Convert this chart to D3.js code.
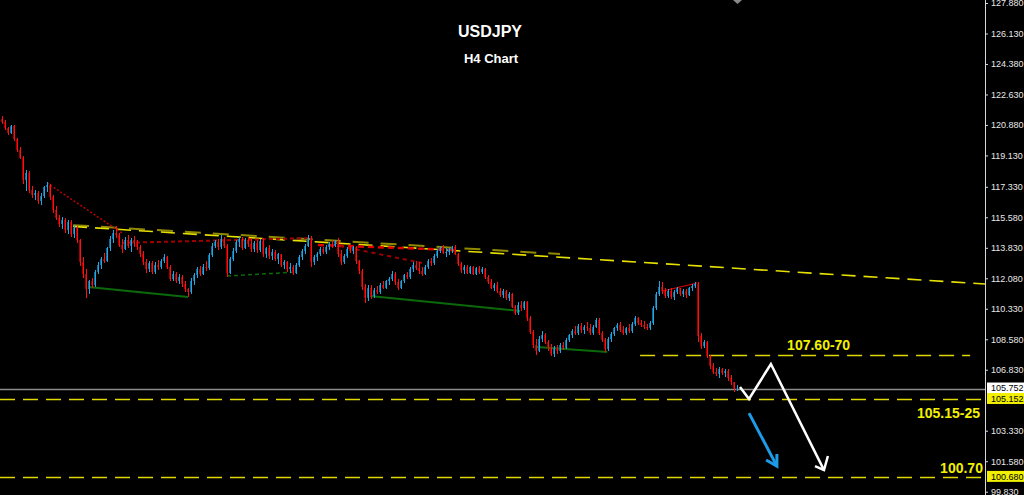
<!DOCTYPE html>
<html><head><meta charset="utf-8">
<script src="https://cdn.jsdelivr.net/npm/d3@7"></script>
<style>html,body{margin:0;padding:0;background:#000;overflow:hidden}svg{display:block}</style>
</head><body>
<svg id="c" width="1024" height="495"></svg>
<script>
const opens=[121.20,121.05,120.70,120.40,120.80,120.05,119.45,119.00,117.70,118.10,117.15,116.85,117.00,116.50,116.80,117.30,117.45,116.75,116.00,115.55,115.20,115.45,114.85,115.30,114.60,114.95,114.25,113.00,112.30,111.45,111.90,111.70,112.45,112.85,113.20,113.10,113.80,114.35,114.70,114.55,114.00,113.75,114.30,113.95,114.25,114.10,113.85,113.45,113.00,112.60,112.95,112.45,112.85,112.70,113.05,113.30,112.75,112.05,112.35,111.95,112.15,111.75,111.45,111.30,111.95,112.25,112.60,112.35,112.75,112.65,113.40,113.95,114.15,113.85,114.35,113.95,112.40,113.20,113.65,114.15,114.35,113.80,114.30,114.05,113.75,114.10,113.70,114.20,113.45,113.80,113.35,113.60,113.20,113.45,112.85,113.00,112.60,112.75,112.40,112.85,113.30,113.65,113.95,114.40,113.00,113.30,113.50,113.75,113.60,113.90,114.05,113.95,114.20,113.45,113.00,113.35,113.75,113.65,113.85,113.05,112.50,111.60,110.95,111.55,111.05,111.40,111.30,111.70,111.55,111.90,112.05,112.35,111.85,111.55,111.90,112.25,112.15,112.60,112.85,112.65,112.50,112.35,112.75,113.10,112.95,113.35,113.65,113.85,113.55,113.60,113.70,113.85,113.50,112.90,112.55,112.75,112.40,112.70,112.35,112.65,112.45,112.60,112.15,111.85,111.55,111.70,111.35,111.10,111.35,110.95,111.20,110.45,110.10,110.55,110.35,110.70,109.80,109.00,108.25,107.90,108.60,108.85,108.40,108.05,107.75,108.10,107.90,108.25,108.10,108.55,108.80,109.05,108.95,109.35,109.10,109.30,109.20,108.95,109.30,109.70,108.95,108.55,108.00,108.60,108.90,109.20,109.40,109.10,108.95,109.20,109.05,109.45,109.80,109.50,109.40,109.30,109.20,109.50,110.35,111.15,111.60,111.35,111.05,111.35,111.00,111.30,111.50,111.15,111.35,111.10,111.50,111.65,111.75,108.75,108.20,108.45,107.60,107.05,106.70,106.60,106.85,106.65,106.75,106.35,106.10,105.70];
const highs=[121.40,121.15,120.75,120.90,120.85,120.15,119.60,119.10,118.30,118.25,117.40,117.15,117.10,116.95,117.40,117.60,117.50,116.85,116.20,115.70,115.60,115.55,115.40,115.45,115.15,115.10,114.35,113.30,112.60,112.00,112.10,112.55,113.00,113.30,113.55,113.90,114.50,114.85,115.10,114.70,114.35,114.45,114.55,114.40,114.50,114.30,114.00,113.65,113.20,113.10,113.05,113.00,113.15,113.20,113.45,113.35,112.85,112.50,112.45,112.30,112.25,111.95,111.55,112.10,112.40,112.70,112.80,112.90,113.10,113.55,114.10,114.30,114.35,114.55,114.45,114.05,113.30,113.80,114.30,114.45,114.45,114.40,114.45,114.40,114.20,114.25,114.35,114.40,113.90,114.00,113.75,113.70,113.55,113.50,113.15,113.10,112.95,112.85,112.95,113.40,113.75,114.05,114.55,114.50,113.40,113.60,113.90,113.85,114.00,114.15,114.25,114.30,114.40,113.70,113.45,113.85,113.95,113.95,113.95,113.15,112.60,111.75,111.70,111.70,111.50,111.65,111.80,111.90,112.00,112.15,112.50,112.45,112.05,112.00,112.35,112.45,112.70,113.00,113.05,113.00,112.70,112.85,113.20,113.25,113.45,113.75,113.95,114.00,113.80,113.80,113.95,114.00,113.55,113.00,112.85,112.85,112.80,112.80,112.75,112.80,112.70,112.65,112.25,112.05,111.80,111.85,111.50,111.45,111.40,111.30,111.25,110.55,110.70,110.75,110.80,110.75,109.90,109.10,108.60,108.75,109.05,108.95,108.55,108.30,108.20,108.25,108.35,108.45,108.65,108.90,109.15,109.35,109.45,109.50,109.40,109.55,109.45,109.40,109.80,109.80,109.05,108.65,108.70,109.00,109.30,109.50,109.55,109.35,109.30,109.45,109.55,109.90,109.85,109.70,109.60,109.45,109.60,110.50,111.30,111.90,111.85,111.55,111.45,111.50,111.40,111.60,111.55,111.45,111.45,111.60,111.75,111.85,111.85,108.95,108.55,108.50,107.70,107.20,106.95,107.00,106.95,106.90,106.85,106.50,106.15,105.95];
const lows=[120.95,120.60,120.30,120.35,119.95,119.35,118.90,117.50,117.10,116.95,116.70,116.55,116.35,116.30,116.70,117.05,116.60,115.85,115.40,115.05,114.90,114.70,114.60,114.45,114.40,114.10,112.80,112.10,110.95,111.20,111.50,111.60,112.30,112.60,112.95,113.00,113.65,114.10,114.40,113.85,113.55,113.70,113.80,113.60,113.90,113.70,113.30,112.85,112.40,112.45,112.30,112.35,112.55,112.60,112.95,112.60,111.90,111.90,111.80,111.75,111.60,111.30,111.00,111.20,111.70,112.10,112.20,112.25,112.50,112.55,113.30,113.80,113.70,113.75,113.80,112.15,112.30,113.05,113.55,113.85,113.70,113.75,113.90,113.60,113.60,113.55,113.60,113.30,113.25,113.20,113.15,113.05,112.90,112.75,112.60,112.45,112.40,112.25,112.30,112.70,113.15,113.50,113.85,112.70,112.85,113.10,113.35,113.45,113.50,113.70,113.80,113.85,113.30,112.85,112.90,113.25,113.55,113.45,112.90,112.35,111.40,110.65,110.75,110.90,110.95,111.20,111.20,111.45,111.45,111.70,111.95,111.70,111.40,111.45,111.80,112.05,112.05,112.45,112.55,112.35,112.20,112.25,112.60,112.80,112.85,113.25,113.55,113.45,113.30,113.40,113.55,113.40,112.80,112.40,112.35,112.30,112.30,112.25,112.25,112.30,112.35,112.05,111.75,111.45,111.35,111.25,111.00,110.95,110.85,110.80,110.35,109.95,110.00,110.20,110.25,109.65,108.90,108.10,107.70,107.85,108.40,108.30,107.90,107.60,107.55,107.75,107.80,107.95,108.00,108.40,108.65,108.85,108.85,108.95,108.90,109.05,108.80,108.85,109.20,108.80,108.45,107.85,107.90,108.45,108.75,109.05,109.00,108.80,108.85,108.95,108.95,109.35,109.40,109.30,109.15,109.10,109.10,109.40,110.25,111.05,111.20,110.95,110.95,110.90,110.85,111.20,111.05,111.00,110.95,111.05,111.35,111.55,108.40,108.00,108.05,107.50,106.90,106.60,106.45,106.35,106.50,106.40,106.20,105.95,105.55,105.60];
const closes=[121.05,120.70,120.40,120.80,120.05,119.45,119.00,117.70,118.10,117.15,116.85,117.00,116.50,116.80,117.30,117.45,116.75,116.00,115.55,115.20,115.45,114.85,115.30,114.60,114.95,114.25,113.00,112.30,111.45,111.90,111.70,112.45,112.85,113.20,113.10,113.80,114.35,114.70,114.55,114.00,113.75,114.30,113.95,114.25,114.10,113.85,113.45,113.00,112.60,112.95,112.45,112.85,112.70,113.05,113.30,112.75,112.05,112.35,111.95,112.15,111.75,111.45,111.30,111.95,112.25,112.60,112.35,112.75,112.65,113.40,113.95,114.15,113.85,114.35,113.95,112.40,113.20,113.65,114.15,114.35,113.80,114.30,114.05,113.75,114.10,113.70,114.20,113.45,113.80,113.35,113.60,113.20,113.45,112.85,113.00,112.60,112.75,112.40,112.85,113.30,113.65,113.95,114.40,113.00,113.30,113.50,113.75,113.60,113.90,114.05,113.95,114.20,113.45,113.00,113.35,113.75,113.65,113.85,113.05,112.50,111.60,110.95,111.55,111.05,111.40,111.30,111.70,111.55,111.90,112.05,112.35,111.85,111.55,111.90,112.25,112.15,112.60,112.85,112.65,112.50,112.35,112.75,113.10,112.95,113.35,113.65,113.85,113.55,113.60,113.70,113.85,113.50,112.90,112.55,112.75,112.40,112.70,112.35,112.65,112.45,112.60,112.15,111.85,111.55,111.70,111.35,111.10,111.35,110.95,111.20,110.45,110.10,110.55,110.35,110.70,109.80,109.00,108.25,107.90,108.60,108.85,108.40,108.05,107.75,108.10,107.90,108.25,108.10,108.55,108.80,109.05,108.95,109.35,109.10,109.30,109.20,108.95,109.30,109.70,108.95,108.55,108.00,108.60,108.90,109.20,109.40,109.10,108.95,109.20,109.05,109.45,109.80,109.50,109.40,109.30,109.20,109.50,110.35,111.15,111.60,111.35,111.05,111.35,111.00,111.30,111.50,111.15,111.35,111.10,111.50,111.65,111.75,108.75,108.20,108.45,107.60,107.05,106.70,106.60,106.85,106.65,106.75,106.35,106.10,105.70,105.75];

const axisTicks=[127.880,126.130,124.380,122.630,120.880,119.130,117.330,115.580,113.830,112.080,110.330,108.580,106.830,103.330,101.580,99.830];
const currentPrice=105.752;
const levelPrices=[105.152,100.680];
const levelLabels=["105.15-25","100.70"];
const resistance=107.65, resistanceLabel="107.60-70";

// trendlines in [bar index, price]
const redDotted=[[15,117.55],[40,114.68]];
const redTop=[[40,114.11],[103.3,114.39]];
const redMid=[[105.3,113.99],[151.7,113.70]];
const redLow=[[112.7,113.93],[140,112.96]];
const redLast=[[220.3,111.35],[231.7,111.81]];
const greenA=[[28.7,111.58],[62,111.01]];
const greenB=[[75,112.21],[98.3,112.44]];
const greenC=[[122.7,111.06],[172.7,110.20]];
const greenD=[[178.3,108.13],[201.7,107.85]];
const yellowTrend=[[23.7,115.05],[327.7,111.75]];
const oliveTrend=[[23.7,115.13],[186,113.47]];
const whiteArrow=[[246,105.84],[249,105.15],[256.3,107.16],[274,101.07]];
const whiteHead=[[271,101.30],[274,101.07],[275.3,101.88]];
const blueArrow=[[249,104.34],[258.3,101.30]];
const blueHead=[[254.7,101.65],[258.3,101.30],[258.3,101.99]];

const W=1024,H=495,axisX=985;
const svg=d3.select("#c");
svg.append("rect").attr("width",W).attr("height",H).attr("fill","#000");
const x=d3.scaleLinear().domain([0,opens.length-1]).range([2,737]);
const y=d3.scaleLinear().domain([99.83,127.88]).range([491.7,3]);

const g=svg.append("g");
function seg(pts,color,w,dash){
  g.append("path").attr("d",d3.line().x(d=>x(d[0])).y(d=>y(d[1]))(pts))
   .attr("fill","none").attr("stroke",color).attr("stroke-width",w)
   .attr("stroke-dasharray",dash||null).attr("stroke-linejoin","miter");
}
function hline(p,x0,x1,color,w,dash){
  g.append("line").attr("x1",x0).attr("x2",x1).attr("y1",Math.round(y(p))+0.5).attr("y2",Math.round(y(p))+0.5)
   .attr("stroke",color).attr("stroke-width",w).attr("stroke-dasharray",dash||null);
}

// horizontal levels
hline(currentPrice,0,axisX,"#8c8c8c",1.5);
levelPrices.forEach(p=>hline(p,0,axisX,"#e0d800",1.6,"15,8"));
hline(resistance,x(212.7),x(322.7),"#e0d800",1.6,"15,8");

// trendlines
seg(oliveTrend,"#8f8a00",2,"16,12");
seg(yellowTrend,"#e6e000",1.6,"14,8");
seg(greenA,"#0a6a0a",2);
seg(greenB,"#0a6a0a",1.5,"4,3");
seg(greenC,"#0a6a0a",2);
seg(greenD,"#0a6a0a",2);
seg(redDotted,"#c00000",1.5,"2,2");
seg(redTop,"#a00000",2,"4,3");
seg(redMid,"#e00000",2.5,"6,4");
seg(redLow,"#a00000",2,"4,4");
seg(redLast,"#e00000",1.2);

// candles
const idx=d3.range(opens.length);
const cg=svg.append("g").attr("shape-rendering","crispEdges");
idx.forEach(i=>{
  const cx=Math.round(x(i));
  const up=closes[i]>=opens[i];
  const yt=y(Math.max(opens[i],closes[i])), yb=y(Math.min(opens[i],closes[i]));
  cg.append("rect").attr("x",cx-1).attr("width",2).attr("y",yt).attr("height",Math.max(1,yb-yt))
    .attr("fill",up?"#0e6c96":"#a00000");
  cg.append("rect").attr("x",cx).attr("width",1).attr("y",y(highs[i])).attr("height",Math.max(1,y(lows[i])-y(highs[i])))
    .attr("fill",up?"#22a6e6":"#ff1010");
});

// arrows
seg(whiteArrow,"#ffffff",2.5);
seg(whiteHead,"#ffffff",2.5);
seg(blueArrow,"#1e9be6",3);
seg(blueHead,"#1e9be6",3);

// level labels
const lab=svg.append("g").attr("font-family","Liberation Sans, Arial, sans-serif").attr("font-weight","bold")
  .attr("font-size",14).attr("fill","#f2f000");
lab.append("text").attr("x",x(261.7)).attr("y",y(resistance)-5).text(resistanceLabel);
lab.append("text").attr("x",x(305)).attr("y",y(levelPrices[0])+19).text(levelLabels[0]);
lab.append("text").attr("x",x(312.7)).attr("y",y(levelPrices[1])-4).text(levelLabels[1]);

// title
svg.append("text").attr("x",490).attr("y",37).attr("text-anchor","middle").attr("fill","#fff")
  .attr("font-family","Liberation Sans, Arial, sans-serif").attr("font-weight","bold").attr("font-size",16).text("USDJPY");
svg.append("text").attr("x",491).attr("y",63).attr("text-anchor","middle").attr("fill","#fff")
  .attr("font-family","Liberation Sans, Arial, sans-serif").attr("font-weight","bold").attr("font-size",13).text("H4 Chart");

// shift marker
svg.append("path").attr("d","M733,0 L742,0 L737.5,4 Z").attr("fill","#8a8a8a");

// axis
svg.append("line").attr("x1",axisX+0.5).attr("x2",axisX+0.5).attr("y1",0).attr("y2",H).attr("stroke","#d8d8d8").attr("stroke-width",1);
const ax=svg.append("g").attr("transform",`translate(${axisX},0)`)
  .call(d3.axisRight(y).tickValues(axisTicks).tickFormat(d3.format(".3f")).tickSize(3).tickPadding(3));
ax.select(".domain").remove();
ax.selectAll("line").attr("stroke","#d8d8d8");
ax.selectAll("text").attr("fill","#e8e8e8").attr("font-family","Liberation Sans, Arial, sans-serif").attr("font-size",9);

// price boxes
const boxes=[[currentPrice,"#ffffff"],[levelPrices[0],"#f0f000"],[levelPrices[1],"#f0f000"]];
boxes.forEach(([p,c])=>{
  const yy=y(p);
  svg.append("rect").attr("x",axisX+2).attr("y",yy-6).attr("width",W-axisX-2).attr("height",11).attr("fill",c);
  svg.append("text").attr("x",axisX+6).attr("y",yy).attr("dy","0.33em").attr("fill","#000")
    .attr("font-family","Liberation Sans, Arial, sans-serif").attr("font-size",9).text(d3.format(".3f")(p));
});
</script>
</body></html>
